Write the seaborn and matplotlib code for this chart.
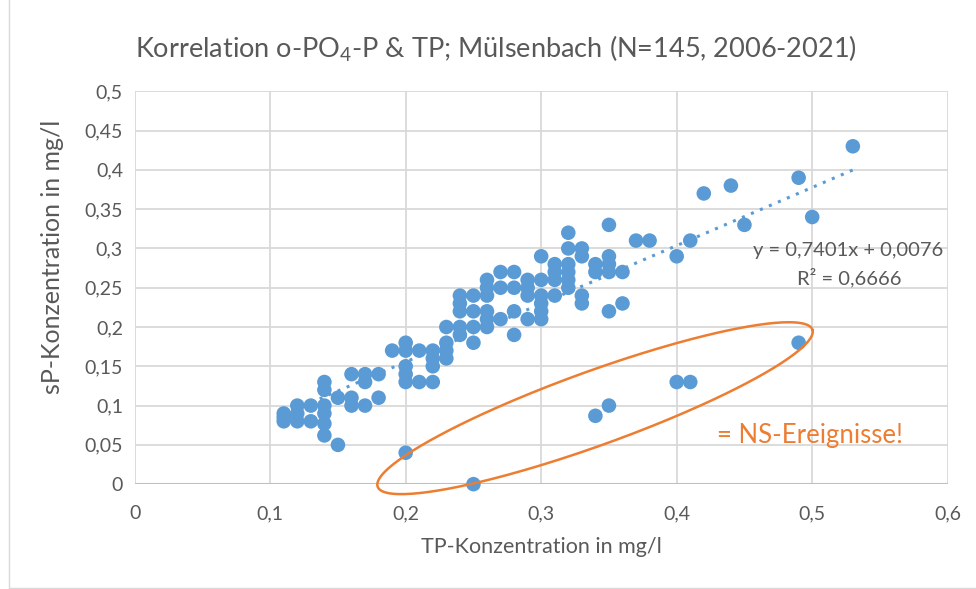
"""
Korrelation o-PO4-P & TP, Mülsenbach
"""

import numpy as np
import pandas as pd
import matplotlib
matplotlib.use("Agg")
import matplotlib.pyplot as plt
import seaborn as sns
from matplotlib.ticker import FuncFormatter, MultipleLocator

# ---------- Daten ----------
tp = [0.11, 0.11, 0.11,
      0.12, 0.12, 0.12,
      0.13, 0.13,
      0.14, 0.14, 0.14, 0.14, 0.14, 0.14,
      0.15, 0.15,
      0.16, 0.16, 0.16,
      0.17, 0.17, 0.17,
      0.18, 0.18,
      0.19,
      0.20, 0.20, 0.20, 0.20, 0.20, 0.20,
      0.21, 0.21,
      0.22, 0.22, 0.22, 0.22,
      0.23, 0.23, 0.23, 0.23,
      0.24, 0.24, 0.24, 0.24, 0.24,
      0.25, 0.25, 0.25, 0.25, 0.25,
      0.26, 0.26, 0.26, 0.26, 0.26, 0.26,
      0.27, 0.27, 0.27,
      0.28, 0.28, 0.28, 0.28,
      0.29, 0.29, 0.29, 0.29,
      0.30, 0.30, 0.30, 0.30, 0.30, 0.30,
      0.31, 0.31, 0.31, 0.31,
      0.32, 0.32, 0.32, 0.32, 0.32, 0.32,
      0.33, 0.33, 0.33, 0.33,
      0.34, 0.34, 0.34,
      0.35, 0.35, 0.35, 0.35, 0.35, 0.35,
      0.36, 0.36,
      0.37, 0.38,
      0.40, 0.40,
      0.41, 0.41,
      0.42, 0.44, 0.45,
      0.49, 0.49,
      0.50, 0.53]
sp = [0.08, 0.085, 0.09,
      0.08, 0.09, 0.10,
      0.08, 0.10,
      0.062, 0.077, 0.09, 0.10, 0.12, 0.13,
      0.05, 0.11,
      0.10, 0.11, 0.14,
      0.10, 0.13, 0.14,
      0.11, 0.14,
      0.17,
      0.04, 0.13, 0.14, 0.15, 0.17, 0.18,
      0.13, 0.17,
      0.13, 0.15, 0.16, 0.17,
      0.16, 0.17, 0.18, 0.20,
      0.19, 0.20, 0.22, 0.23, 0.24,
      0.00, 0.18, 0.20, 0.22, 0.24,
      0.20, 0.21, 0.22, 0.24, 0.25, 0.26,
      0.21, 0.25, 0.27,
      0.19, 0.22, 0.25, 0.27,
      0.21, 0.24, 0.25, 0.26,
      0.21, 0.22, 0.23, 0.24, 0.26, 0.29,
      0.24, 0.26, 0.27, 0.28,
      0.25, 0.26, 0.27, 0.28, 0.30, 0.32,
      0.23, 0.24, 0.29, 0.30,
      0.087, 0.27, 0.28,
      0.10, 0.22, 0.27, 0.28, 0.29, 0.33,
      0.23, 0.27,
      0.31, 0.31,
      0.13, 0.29,
      0.13, 0.31,
      0.37, 0.38, 0.33,
      0.18, 0.39,
      0.34, 0.43]
slope = 0.7401
intercept = 0.0076

df = pd.DataFrame({"TP": tp, "sP": sp})

blue = "#5B9BD5"
orange = "#ED7D31"
grey = "#595959"

sns.set_theme(style="white")
plt.rcParams["font.family"] = ["Lato", "DejaVu Sans"]
plt.rcParams["mathtext.fontset"] = "custom"
plt.rcParams["mathtext.rm"] = "Lato"

fig = plt.figure(figsize=(9.76, 5.89), dpi=100)
ax = fig.add_axes([0.138, 0.178, 0.833, 0.667])

# ---- Gitter ----
ax.set_xlim(0, 0.6)
ax.set_ylim(0, 0.5)
ax.xaxis.set_major_locator(MultipleLocator(0.1))
ax.yaxis.set_major_locator(MultipleLocator(0.05))
ax.grid(True, color="#D9D9D9", linewidth=1.3)
ax.set_axisbelow(True)
for s in ax.spines.values():
    s.set_visible(False)
ax.axhline(0, color="#BFBFBF", linewidth=1.5, zorder=1)

fmt = FuncFormatter(lambda v, _: f"{v:.2f}".rstrip("0").rstrip(".").replace(".", ","))
ax.xaxis.set_major_formatter(fmt)
ax.yaxis.set_major_formatter(fmt)
ax.tick_params(axis="both", labelsize=14, colors=grey, length=0)
ax.tick_params(axis="x", pad=15)
ax.tick_params(axis="y", pad=8.5)

# ---- Punkte ----
sns.scatterplot(data=df, x="TP", y="sP", ax=ax, color=blue, s=110,
                edgecolor="none", zorder=3, clip_on=False)

# ---- Trendlinie ----
xt = np.array([min(tp), max(tp)])
ax.plot(xt, slope * xt + intercept, color=blue, linestyle=(0, (1, 2.2)),
        linewidth=2.2, zorder=2)
ax.text(0.597, 0.297, "y = 0,7401x + 0,0076", ha="right", va="center",
        fontsize=14.5, color=grey)
ax.text(0.566, 0.263, "R² = 0,6666", ha="right", va="center",
        fontsize=14.5, color=grey)

# ---- Ellipse (NS-Ereignisse), in Pixeln definiert ----
def px_to_data(px, py):
    return (px - 135) / (812 - 135) * 0.5, (484 - py) / (484 - 91) * 0.5

t = np.linspace(0, 2 * np.pi, 300)
cx, cy, a, b, ang = 595, 408, 231, 37, np.deg2rad(-19.9)
ex = cx + a * np.cos(t) * np.cos(ang) - b * np.sin(t) * np.sin(ang)
ey = cy + a * np.cos(t) * np.sin(ang) + b * np.sin(t) * np.cos(ang)
exd, eyd = px_to_data(ex, ey)
ax.plot(exd, eyd, color=orange, linewidth=1.8, clip_on=False, zorder=4)
ax.text(0.43, 0.062, "= NS-Ereignisse!", fontsize=18.5, color=orange,
        ha="left", va="center")

# ---- Beschriftung ----
ax.set_xlabel("TP-Konzentration in mg/l", fontsize=15.5, color=grey)
ax.xaxis.set_label_coords(0.5, -0.135)
ax.set_ylabel("sP-Konzentration in mg/l", fontsize=18, color=grey)
ax.yaxis.set_label_coords(-0.087, 0.578)
fig.text(0.508, 0.918, "Korrelation o-PO$_4$-P & TP; Mülsenbach (N=145, 2006-2021)",
         ha="center", va="center", fontsize=19.5, color=grey)

# ---- Rahmen ----
fig.add_artist(plt.Line2D([0.009, 0.009], [0, 1], color="#D9D9D9", linewidth=1))
fig.add_artist(plt.Line2D([0.009, 1], [0.002, 0.002], color="#D9D9D9", linewidth=1))

plt.savefig("out.png", dpi=100)
plt.close()
